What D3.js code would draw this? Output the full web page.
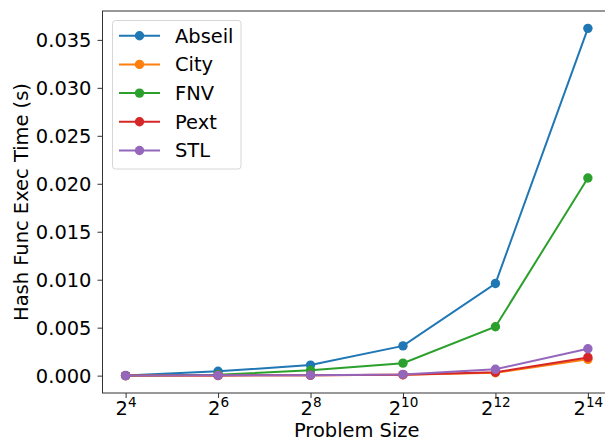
<!DOCTYPE html>
<html>
<head>
<meta charset="utf-8">
<script src="https://cdn.jsdelivr.net/npm/d3@7"></script>
<style>
  body { margin: 0; background: #fff; }
  text { font-family: "DejaVu Sans", sans-serif; fill: #000; }
</style>
</head>
<body>
<div id="chart"></div>
<script>
// problem sizes as powers of two
var exponents = [4, 6, 8, 10, 12, 14]
var seriesNames = ['Abseil', 'City', 'FNV', 'Pext', 'STL']
var abseil = [0.00001, 0.00045, 0.0011, 0.0031, 0.0096, 0.0362]
var city = [0.000005, 0.00002, 0.00004, 0.0001, 0.0003, 0.0017]
var fnv = [0.000005, 0.0001, 0.00055, 0.0013, 0.0051, 0.0206]
var pext = [0.000005, 0.00002, 0.00004, 0.0001, 0.00035, 0.0019]
var stl = [0.000005, 0.00003, 0.00005, 0.00013, 0.00066, 0.0028]
var yTicks = [0, 0.005, 0.01, 0.015, 0.02, 0.025, 0.03, 0.035]
var colors = ['#1f77b4', '#ff7f0e', '#2ca02c', '#d62728', '#9467bd']

var width = 605
var height = 442
var margin = {left: 102.5, top: 11, right: -6, bottom: 49}
var fontSize = '19.44px'
var markerR = 4.7

var svg = d3.select('#chart')
  .append('svg')
  .attr('width', width)
  .attr('height', height)

var x = d3.scaleLinear()
  .domain([3.5, 14.5])
  .range([margin.left, width - margin.right])

var y = d3.scaleLinear()
  .domain([-0.00181, 0.03801])
  .range([height - margin.bottom, margin.top])

var all = [abseil, city, fnv, pext, stl]

// axes
var xAxis = svg.append('g')
  .attr('transform', 'translate(0,' + (height - margin.bottom) + ')')
  .call(d3.axisBottom(x).tickValues(exponents).tickSize(5).tickPadding(4).tickFormat(''))
var yAxis = svg.append('g')
  .attr('transform', 'translate(' + margin.left + ',0)')
  .call(d3.axisLeft(y).tickValues(yTicks).tickSize(5).tickPadding(6).tickFormat(d3.format('.3f')))

xAxis.select('.domain').remove()
yAxis.select('.domain').remove()
svg.selectAll('.tick line').attr('stroke', '#333').attr('stroke-width', 1)
yAxis.selectAll('.tick text')
  .style('font-size', fontSize)
  .attr('dy', '0.36em')

// x tick labels 2^n
var xl = xAxis.selectAll('.tick').append('text')
  .attr('y', 22)
  .attr('text-anchor', 'middle')
  .style('font-size', fontSize)
xl.append('tspan').text('2')
xl.append('tspan')
  .attr('dy', -8)
  .style('font-size', '13.6px')
  .text(function(d) { return d })

// frame
svg.append('rect')
  .attr('x', margin.left)
  .attr('y', margin.top)
  .attr('width', width - margin.right - margin.left)
  .attr('height', height - margin.bottom - margin.top)
  .attr('fill', 'none')
  .attr('stroke', '#333')
  .attr('stroke-width', 1)

// axis labels
svg.append('text')
  .attr('x', (margin.left + 611) / 2)
  .attr('y', 437.3)
  .attr('text-anchor', 'middle')
  .style('font-size', fontSize)
  .text('Problem Size')

svg.append('text')
  .attr('transform', 'translate(28,' + ((margin.top + height - margin.bottom) / 2) + ') rotate(-90)')
  .attr('text-anchor', 'middle')
  .style('font-size', fontSize)
  .text('Hash Func Exec Time (s)')

var line = d3.line()
  .x(function(d, i) { return x(exponents[i]) })
  .y(function(d) { return y(d) })

var plot = svg.append('g')
all.forEach(function(vals, k) {
  var g = plot.append('g')
  g.append('path')
    .attr('d', line(vals))
    .attr('fill', 'none')
    .attr('stroke', colors[k])
    .attr('stroke-width', 2)
  g.selectAll('circle')
    .data(vals)
    .enter()
    .append('circle')
    .attr('cx', function(d, i) { return x(exponents[i]) })
    .attr('cy', function(d) { return y(d) })
    .attr('r', markerR)
    .attr('fill', colors[k])
})

// legend
var legend = svg.append('g')
legend.append('rect')
  .attr('x', 112.5)
  .attr('y', 20.5)
  .attr('width', 128.5)
  .attr('height', 148.5)
  .attr('rx', 3)
  .attr('fill', 'rgba(255,255,255,0.8)')
  .attr('stroke', '#d6d6d6')
  .attr('stroke-width', 1)

seriesNames.forEach(function(name, k) {
  var ly = 35.7 + k * 28.7
  legend.append('line')
    .attr('x1', 119).attr('x2', 160)
    .attr('y1', ly).attr('y2', ly)
    .attr('stroke', colors[k])
    .attr('stroke-width', 2)
  legend.append('circle')
    .attr('cx', 139.5).attr('cy', ly)
    .attr('r', markerR)
    .attr('fill', colors[k])
  legend.append('text')
    .attr('x', 175)
    .attr('y', ly)
    .attr('dy', '0.36em')
    .style('font-size', fontSize)
    .text(name)
})
</script>
</body>
</html>
